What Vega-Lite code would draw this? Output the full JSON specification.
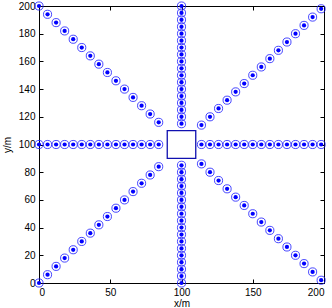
{
  "$schema": "https://vega.github.io/schema/vega-lite/v6.json",
  "width": 285,
  "height": 277,
  "autosize": {"type": "none"},
  "padding": {"left": 39, "top": 6, "right": 8, "bottom": 25},
  "background": "white",
  "config": {
    "view": {"stroke": "black", "strokeWidth": 1},
    "font": "Liberation Sans",
    "axis": {
      "grid": false,
      "domainColor": "black",
      "tickColor": "black",
      "labelColor": "black",
      "titleColor": "black",
      "labelFont": "Liberation Sans",
      "titleFont": "Liberation Sans",
      "labelFontSize": 10,
      "titleFontSize": 10,
      "titleFontWeight": "normal",
      "tickSize": -4,
      "labelPadding": 8
    }
  },
  "datasets": {
    "pts": [
      {"x": 0, "y": 100}, {"x": 6, "y": 100}, {"x": 12, "y": 100}, {"x": 18, "y": 100}, {"x": 24, "y": 100},
      {"x": 30, "y": 100}, {"x": 36, "y": 100}, {"x": 42, "y": 100}, {"x": 48, "y": 100}, {"x": 54, "y": 100},
      {"x": 60, "y": 100}, {"x": 66, "y": 100}, {"x": 72, "y": 100}, {"x": 78, "y": 100}, {"x": 84, "y": 100},
      {"x": 114, "y": 100}, {"x": 120, "y": 100}, {"x": 126, "y": 100}, {"x": 132, "y": 100}, {"x": 138, "y": 100},
      {"x": 144, "y": 100}, {"x": 150, "y": 100}, {"x": 156, "y": 100}, {"x": 162, "y": 100}, {"x": 168, "y": 100},
      {"x": 174, "y": 100}, {"x": 180, "y": 100}, {"x": 186, "y": 100}, {"x": 192, "y": 100}, {"x": 198, "y": 100},
      {"x": 100, "y": 0}, {"x": 100, "y": 5}, {"x": 100, "y": 10}, {"x": 100, "y": 15}, {"x": 100, "y": 20},
      {"x": 100, "y": 25}, {"x": 100, "y": 30}, {"x": 100, "y": 35}, {"x": 100, "y": 40}, {"x": 100, "y": 45},
      {"x": 100, "y": 50}, {"x": 100, "y": 55}, {"x": 100, "y": 60}, {"x": 100, "y": 65}, {"x": 100, "y": 70},
      {"x": 100, "y": 75}, {"x": 100, "y": 80}, {"x": 100, "y": 85},
      {"x": 100, "y": 115}, {"x": 100, "y": 120}, {"x": 100, "y": 125}, {"x": 100, "y": 130}, {"x": 100, "y": 135},
      {"x": 100, "y": 140}, {"x": 100, "y": 145}, {"x": 100, "y": 150}, {"x": 100, "y": 155}, {"x": 100, "y": 160},
      {"x": 100, "y": 165}, {"x": 100, "y": 170}, {"x": 100, "y": 175}, {"x": 100, "y": 180}, {"x": 100, "y": 185},
      {"x": 100, "y": 190}, {"x": 100, "y": 195}, {"x": 100, "y": 200},
      {"x": 0, "y": 200}, {"x": 6, "y": 194}, {"x": 12, "y": 188}, {"x": 18, "y": 182}, {"x": 24, "y": 176},
      {"x": 30, "y": 170}, {"x": 36, "y": 164}, {"x": 42, "y": 158}, {"x": 48, "y": 152}, {"x": 54, "y": 146},
      {"x": 60, "y": 140}, {"x": 66, "y": 134}, {"x": 72, "y": 128}, {"x": 78, "y": 122}, {"x": 84, "y": 116},
      {"x": 0, "y": 0}, {"x": 6, "y": 6}, {"x": 12, "y": 12}, {"x": 18, "y": 18}, {"x": 24, "y": 24},
      {"x": 30, "y": 30}, {"x": 36, "y": 36}, {"x": 42, "y": 42}, {"x": 48, "y": 48}, {"x": 54, "y": 54},
      {"x": 60, "y": 60}, {"x": 66, "y": 66}, {"x": 72, "y": 72}, {"x": 78, "y": 78}, {"x": 84, "y": 84},
      {"x": 114, "y": 114}, {"x": 120, "y": 120}, {"x": 126, "y": 126}, {"x": 132, "y": 132}, {"x": 138, "y": 138},
      {"x": 144, "y": 144}, {"x": 150, "y": 150}, {"x": 156, "y": 156}, {"x": 162, "y": 162}, {"x": 168, "y": 168},
      {"x": 174, "y": 174}, {"x": 180, "y": 180}, {"x": 186, "y": 186}, {"x": 192, "y": 192}, {"x": 198, "y": 198},
      {"x": 114, "y": 86}, {"x": 120, "y": 80}, {"x": 126, "y": 74}, {"x": 132, "y": 68}, {"x": 138, "y": 62},
      {"x": 144, "y": 56}, {"x": 150, "y": 50}, {"x": 156, "y": 44}, {"x": 162, "y": 38}, {"x": 168, "y": 32},
      {"x": 174, "y": 26}, {"x": 180, "y": 20}, {"x": 186, "y": 14}, {"x": 192, "y": 8}, {"x": 198, "y": 2}
    ],
    "box": [{"x": 90, "x2": 110, "y": 90, "y2": 110}]
  },
  "resolve": {"axis": {"x": "independent", "y": "independent"}},
  "layer": [
    {
      "data": {"name": "box"},
      "mark": {"type": "rect", "fill": null, "filled": false, "stroke": "#1010b0", "strokeWidth": 1.3},
      "encoding": {
        "x": {"field": "x", "type": "quantitative", "scale": {"domain": [0, 200], "nice": false, "zero": false},
              "axis": {"orient": "top", "labels": false, "title": null, "domain": false, "values": [0, 50, 100, 150, 200]}},
        "x2": {"field": "x2"},
        "y": {"field": "y", "type": "quantitative", "scale": {"domain": [0, 200], "nice": false, "zero": false},
              "axis": {"orient": "right", "labels": false, "title": null, "domain": false, "values": [0, 20, 40, 60, 80, 100, 120, 140, 160, 180, 200]}},
        "y2": {"field": "y2"}
      }
    },
    {
      "data": {"name": "pts"},
      "mark": {"type": "point", "shape": "circle", "filled": false, "stroke": "#1a1aff", "strokeWidth": 0.8, "size": 66, "opacity": 1},
      "encoding": {
        "x": {"field": "x", "type": "quantitative", "scale": {"domain": [0, 200], "nice": false, "zero": false},
              "axis": {"orient": "bottom", "title": "x/m", "values": [0, 50, 100, 150, 200], "titleY": 15, "titleBaseline": "top"}},
        "y": {"field": "y", "type": "quantitative", "scale": {"domain": [0, 200], "nice": false, "zero": false},
              "axis": {"orient": "left", "title": "y/m", "values": [0, 20, 40, 60, 80, 100, 120, 140, 160, 180, 200], "titlePadding": 6}}
      }
    },
    {
      "data": {"name": "pts"},
      "mark": {"type": "point", "shape": "circle", "filled": true, "color": "#0000ff", "size": 18, "opacity": 1},
      "encoding": {
        "x": {"field": "x", "type": "quantitative", "scale": {"domain": [0, 200], "nice": false, "zero": false}, "axis": null},
        "y": {"field": "y", "type": "quantitative", "scale": {"domain": [0, 200], "nice": false, "zero": false}, "axis": null}
      }
    }
  ]
}
